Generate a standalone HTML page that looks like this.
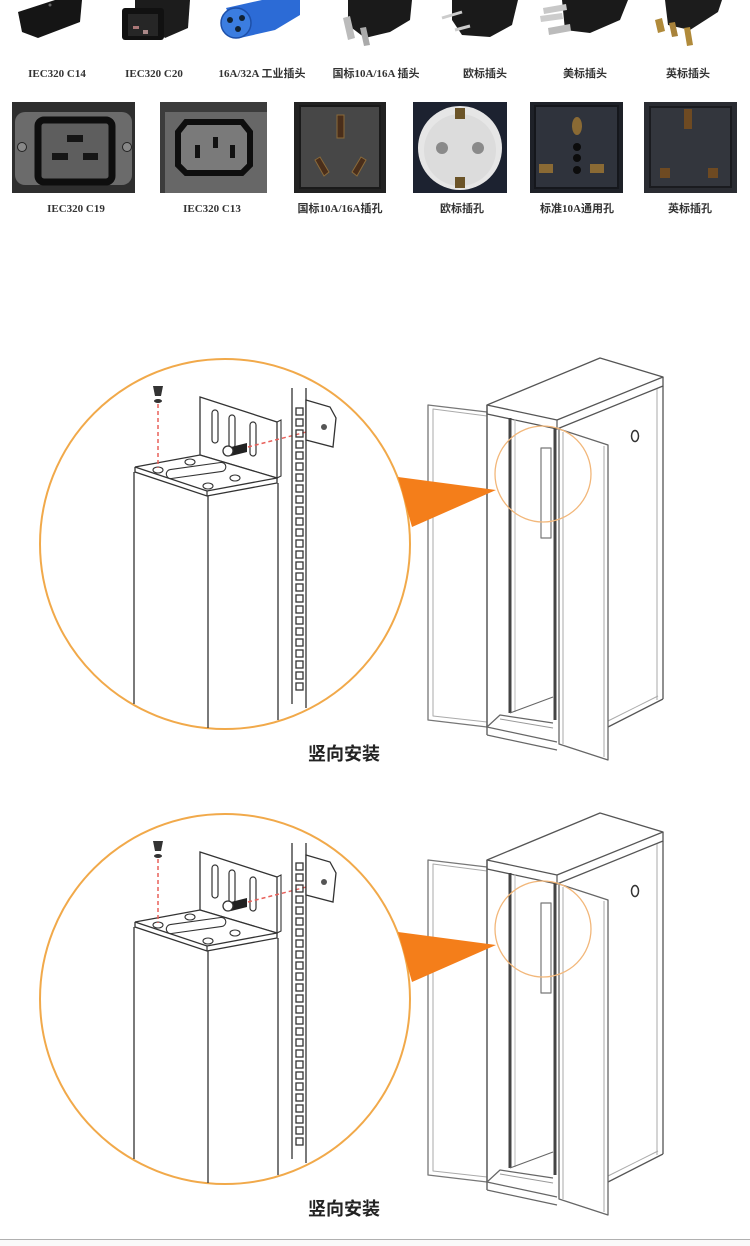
<!DOCTYPE html>
<html><head><meta charset="utf-8">
<style>
html,body{margin:0;padding:0;background:#fff;}
svg{display:block;}
.lb{font-family:"Liberation Serif","Noto Sans CJK SC",serif;font-size:11px;fill:#333;font-weight:bold;}
.cap{font-family:"Liberation Sans","Noto Sans CJK SC",sans-serif;font-size:18px;font-weight:bold;fill:#222;}
</style></head>
<body>
<svg width="750" height="1246" viewBox="0 0 750 1246" xmlns="http://www.w3.org/2000/svg">
<rect width="750" height="1246" fill="#fff"/>

<!-- ===== Top row plugs ===== -->
<polygon points="18,12 55,0 82,0 80,22 38,38 22,32" fill="#151515"/>
<circle cx="50" cy="5" r="1.5" fill="#666"/>

<polygon points="135,0 190,0 188,28 165,38 135,10" fill="#1c1c1c"/>
<rect x="122" y="8" width="42" height="32" rx="3" fill="#111"/>
<rect x="128" y="14" width="30" height="22" fill="#262626"/>
<rect x="133" y="26" width="6" height="3" fill="#a77"/>
<rect x="143" y="30" width="5" height="4" fill="#a88"/>

<polygon points="226,8 262,0 300,0 300,15 275,30 240,38" fill="#2c6bd6"/>
<circle cx="236" cy="23" r="15" fill="#3b7de0" stroke="#1d4fa8" stroke-width="1.5"/>
<circle cx="230" cy="20" r="3" fill="#123"/>
<circle cx="242" cy="18" r="3" fill="#123"/>
<circle cx="238" cy="29" r="3" fill="#123"/>

<polygon points="348,0 412,0 410,20 390,32 365,38 348,25" fill="#1a1a1a"/>
<polygon points="343,18 350,16 355,38 348,40" fill="#bbb"/>
<polygon points="360,28 366,27 370,45 364,46" fill="#aaa"/>

<polygon points="452,0 518,0 512,25 490,37 462,35 452,20" fill="#1a1a1a"/>
<line x1="442" y1="18" x2="462" y2="12" stroke="#ccc" stroke-width="3"/>
<line x1="455" y1="30" x2="470" y2="26" stroke="#ccc" stroke-width="3"/>

<polygon points="562,0 628,0 620,20 590,33 565,30" fill="#1a1a1a"/>
<polygon points="543,8 566,4 567,10 544,14" fill="#c8c8c8"/>
<polygon points="548,28 570,24 571,31 549,35" fill="#bbb"/>
<polygon points="540,16 562,13 563,19 541,22" fill="#ccc"/>

<polygon points="665,0 722,0 718,12 690,30 668,25" fill="#1c1c1c"/>
<polygon points="655,20 662,18 665,31 658,33" fill="#b08a3a"/>
<polygon points="669,23 675,22 678,36 672,37" fill="#a8823a"/>
<polygon points="684,28 690,27 693,45 687,46" fill="#b08a3a"/>

<text class="lb" x="57" y="77" text-anchor="middle">IEC320 C14</text>
<text class="lb" x="154" y="77" text-anchor="middle">IEC320 C20</text>
<text class="lb" x="262" y="77" text-anchor="middle">16A/32A 工业插头</text>
<text class="lb" x="376" y="77" text-anchor="middle">国标10A/16A 插头</text>
<text class="lb" x="485" y="77" text-anchor="middle">欧标插头</text>
<text class="lb" x="585" y="77" text-anchor="middle">美标插头</text>
<text class="lb" x="688" y="77" text-anchor="middle">英标插头</text>

<!-- ===== Second row sockets ===== -->
<!-- C19 -->
<rect x="12" y="102" width="123" height="91" fill="#2e2e2e"/>
<rect x="15" y="112" width="117" height="73" rx="10" fill="#6b6b6b"/>
<rect x="38" y="120" width="74" height="62" rx="6" fill="#5e5e5e" stroke="#0e0e0e" stroke-width="7"/>
<rect x="67" y="135" width="16" height="7" fill="#151515"/>
<rect x="52" y="153" width="16" height="7" fill="#151515"/>
<rect x="83" y="153" width="15" height="7" fill="#151515"/>
<circle cx="22" cy="147" r="4.5" fill="#888" stroke="#222"/>
<circle cx="127" cy="147" r="4.5" fill="#888" stroke="#222"/>
<!-- C13 -->
<rect x="160" y="102" width="107" height="91" fill="#3c3c3c"/>
<rect x="165" y="112" width="102" height="81" fill="#676767"/>
<path d="M186,122 L242,122 L250,132 L250,165 L242,173 L186,173 L178,165 L178,132 Z" fill="#7a7a7a" stroke="#0e0e0e" stroke-width="6"/>
<rect x="195" y="145" width="5" height="13" fill="#111"/>
<rect x="213" y="137" width="5" height="11" fill="#111"/>
<rect x="230" y="145" width="5" height="13" fill="#111"/>
<!-- 国标 -->
<rect x="294" y="102" width="92" height="91" fill="#222"/>
<rect x="300" y="106" width="80" height="82" fill="#474747" stroke="#1a1a1a" stroke-width="2"/>
<rect x="337" y="115" width="7" height="23" fill="#4a2e1a" stroke="#8a6a3a"/>
<polygon points="315,160 320,157 329,172 324,176" fill="#4a2e1a" stroke="#8a6a3a"/>
<polygon points="352,172 361,157 366,160 357,176" fill="#4a2e1a" stroke="#8a6a3a"/>
<!-- 欧标 -->
<rect x="413" y="102" width="94" height="91" fill="#1c2230"/>
<circle cx="460" cy="148" r="42" fill="#e6e6e6"/>
<circle cx="460" cy="150" r="36" fill="#dcdcdc"/>
<circle cx="442" cy="148" r="6" fill="#8a8a8a"/>
<circle cx="478" cy="148" r="6" fill="#8a8a8a"/>
<rect x="455" y="108" width="10" height="11" fill="#6b5428"/>
<rect x="455" y="177" width="10" height="11" fill="#6b5428"/>
<!-- 通用 -->
<rect x="530" y="102" width="93" height="91" fill="#1e2128"/>
<rect x="535" y="106" width="83" height="82" fill="#2f333c" stroke="#15171c" stroke-width="2"/>
<ellipse cx="577" cy="126" rx="5" ry="9" fill="#8a6a34"/>
<circle cx="577" cy="147" r="4" fill="#0c0c0c"/>
<circle cx="577" cy="158" r="4" fill="#0c0c0c"/>
<circle cx="577" cy="170" r="4" fill="#0c0c0c"/>
<rect x="539" y="164" width="14" height="9" fill="#8a6a34"/>
<rect x="590" y="164" width="14" height="9" fill="#8a6a34"/>
<!-- 英标 -->
<rect x="644" y="102" width="93" height="91" fill="#2a2c32"/>
<rect x="650" y="107" width="81" height="80" fill="#33363d" stroke="#1a1b1f" stroke-width="2"/>
<rect x="684" y="109" width="8" height="20" fill="#6e4a22"/>
<rect x="660" y="168" width="10" height="10" fill="#6e4a22"/>
<rect x="708" y="168" width="10" height="10" fill="#6e4a22"/>

<text class="lb" x="76" y="212" text-anchor="middle">IEC320 C19</text>
<text class="lb" x="212" y="212" text-anchor="middle">IEC320 C13</text>
<text class="lb" x="340" y="212" text-anchor="middle">国标10A/16A插孔</text>
<text class="lb" x="462" y="212" text-anchor="middle">欧标插孔</text>
<text class="lb" x="577" y="212" text-anchor="middle">标准10A通用孔</text>
<text class="lb" x="690" y="212" text-anchor="middle">英标插孔</text>

<!-- ===== Install diagram ===== -->
<defs>
<g id="inst">
 <circle cx="225" cy="544" r="185" fill="#fff" stroke="#f1a94a" stroke-width="2"/>
 <g stroke="#333" stroke-width="1.3" fill="none">
  <line x1="134" y1="472" x2="134" y2="704"/>
  <line x1="208" y1="496" x2="208" y2="728"/>
  <line x1="278" y1="483" x2="278" y2="720"/>
 </g>
 <!-- vertical bracket plate -->
 <polygon points="200,397 277,422 277,478 200,455" fill="#fff" stroke="#333" stroke-width="1.3"/>
 <polyline points="277,422 281,420 281,476 277,478" fill="none" stroke="#333" stroke-width="1.1"/>
 <g fill="#fff" stroke="#333" stroke-width="1.2">
  <rect x="212" y="410" width="6" height="33" rx="3"/>
  <rect x="229" y="415" width="6" height="33" rx="3"/>
  <rect x="250" y="422" width="6" height="34" rx="3"/>
 </g>
 <!-- horizontal plate -->
 <polygon points="135,467 200,455 277,478 207,491" fill="#fff" stroke="#333" stroke-width="1.3"/>
 <polyline points="135,467 135,472 207,496 277,483 277,478" fill="none" stroke="#333" stroke-width="1.3"/>
 <line x1="207" y1="491" x2="207" y2="496" stroke="#333" stroke-width="1.2"/>
 <g fill="#fff" stroke="#333" stroke-width="1.1">
  <ellipse cx="158" cy="470" rx="5" ry="3"/>
  <ellipse cx="190" cy="462" rx="5" ry="3"/>
  <ellipse cx="235" cy="478" rx="5" ry="3"/>
  <ellipse cx="208" cy="486" rx="5" ry="3"/>
  <rect x="166" y="466" width="60" height="9" rx="4.5" transform="rotate(-8 196 470)"/>
 </g>
 <!-- bolt -->
 <polygon points="231,447 247,443 247,452 231,456" fill="#222"/>
 <circle cx="228" cy="451" r="5" fill="#fff" stroke="#333" stroke-width="1.3"/>
 <!-- screw -->
 <path d="M153,386 L163,386 L161,396 L155,396 Z" fill="#333"/>
 <ellipse cx="158" cy="401" rx="4" ry="2" fill="#333"/>
 <g stroke="#e8605a" stroke-width="1.5" stroke-dasharray="4,3" fill="none">
  <line x1="158" y1="404" x2="158" y2="468"/>
  <line x1="248" y1="447" x2="322" y2="428"/>
 </g>
 <!-- rail -->
 <g stroke="#333" stroke-width="1.3" fill="none">
  <line x1="292" y1="388" x2="292" y2="704"/>
  <line x1="306" y1="388" x2="306" y2="708"/>
  <rect x="296" y="408" width="7" height="7"/><rect x="296" y="419" width="7" height="7"/>
  <rect x="296" y="430" width="7" height="7"/><rect x="296" y="441" width="7" height="7"/>
  <rect x="296" y="452" width="7" height="7"/><rect x="296" y="463" width="7" height="7"/>
  <rect x="296" y="474" width="7" height="7"/><rect x="296" y="485" width="7" height="7"/>
  <rect x="296" y="496" width="7" height="7"/><rect x="296" y="507" width="7" height="7"/>
  <rect x="296" y="518" width="7" height="7"/><rect x="296" y="529" width="7" height="7"/>
  <rect x="296" y="540" width="7" height="7"/><rect x="296" y="551" width="7" height="7"/>
  <rect x="296" y="562" width="7" height="7"/><rect x="296" y="573" width="7" height="7"/>
  <rect x="296" y="584" width="7" height="7"/><rect x="296" y="595" width="7" height="7"/>
  <rect x="296" y="606" width="7" height="7"/><rect x="296" y="617" width="7" height="7"/>
  <rect x="296" y="628" width="7" height="7"/><rect x="296" y="639" width="7" height="7"/>
  <rect x="296" y="650" width="7" height="7"/><rect x="296" y="661" width="7" height="7"/>
  <rect x="296" y="672" width="7" height="7"/><rect x="296" y="683" width="7" height="7"/>
 </g>
 <polygon points="306,400 330,407 336,418 333,447 306,440" fill="#fff" stroke="#333" stroke-width="1.3"/>
 <circle cx="324" cy="427" r="3" fill="#555"/>

 <!-- cabinet -->
 <g fill="none" stroke-linejoin="round">
  <!-- left door -->
  <polygon points="428,405 487,412 487,727 428,720" stroke="#777" stroke-width="1.3"/>
  <polygon points="433,409 487,416 487,722 433,716" stroke="#aaa" stroke-width="1"/>
  <!-- top -->
  <polygon points="487,405 557,420 663,377 600,358" fill="#fff" stroke="#555" stroke-width="1.3"/>
  <polyline points="487,405 487,414 557,429 663,386 663,377" stroke="#555" stroke-width="1.3"/>
  <line x1="557" y1="420" x2="557" y2="429" stroke="#555" stroke-width="1.2"/>
  <!-- right side -->
  <line x1="663" y1="386" x2="663" y2="699" stroke="#555" stroke-width="1.3"/>
  <line x1="657" y1="389" x2="657" y2="700" stroke="#aaa" stroke-width="1"/>
  <line x1="608" y1="727" x2="663" y2="699" stroke="#555" stroke-width="1.3"/>
  <line x1="608" y1="721" x2="658" y2="696" stroke="#aaa" stroke-width="1"/>
  <!-- front frame -->
  <line x1="487" y1="405" x2="487" y2="735" stroke="#555" stroke-width="1.3"/>
  <line x1="510" y1="418" x2="510" y2="713" stroke="#444" stroke-width="3"/>
  <line x1="515" y1="419" x2="515" y2="712" stroke="#bbb" stroke-width="1"/>
  <line x1="555" y1="428" x2="555" y2="720" stroke="#444" stroke-width="3"/>
  <line x1="510" y1="713" x2="553" y2="697" stroke="#666" stroke-width="1.1"/>
  <!-- handle -->
  <rect x="541" y="448" width="10" height="90" fill="#fff" stroke="#777" stroke-width="1.2"/>
  <!-- right door -->
  <polygon points="559,429 608,445 608,760 559,744" fill="#fff" stroke="#666" stroke-width="1.3"/>
  <line x1="563" y1="432" x2="563" y2="744" stroke="#aaa" stroke-width="1"/>
  <line x1="604" y1="446" x2="604" y2="757" stroke="#aaa" stroke-width="1"/>
  <!-- base -->
  <polyline points="487,727 500,715 553,723" stroke="#666" stroke-width="1.2"/>
  <line x1="500" y1="719" x2="553" y2="728" stroke="#999" stroke-width="1"/>
  <line x1="487" y1="727" x2="557" y2="742" stroke="#666" stroke-width="1.2"/>
  <line x1="487" y1="735" x2="557" y2="750" stroke="#666" stroke-width="1.2"/>
  <!-- lock -->
  <ellipse cx="635" cy="436" rx="3.5" ry="5.5" stroke="#333" stroke-width="1.5"/>
  <!-- zoom circle -->
  <circle cx="543" cy="474" r="48" stroke="#f2b77a" stroke-width="1.3"/>
 </g>
 <!-- arrow -->
 <polygon points="398,477 496,490 412,527" fill="#f47e1a"/>
</g>
</defs>

<use href="#inst"/>
<use href="#inst" transform="translate(0,455)"/>

<text class="cap" x="344" y="760" text-anchor="middle">竖向安装</text>
<text class="cap" x="344" y="1215" text-anchor="middle">竖向安装</text>

<line x1="0" y1="1239.5" x2="750" y2="1239.5" stroke="#b0b0b0" stroke-width="1"/>
<rect x="0" y="1240" width="750" height="6" fill="#fafafa"/>
</svg>
</body></html>
